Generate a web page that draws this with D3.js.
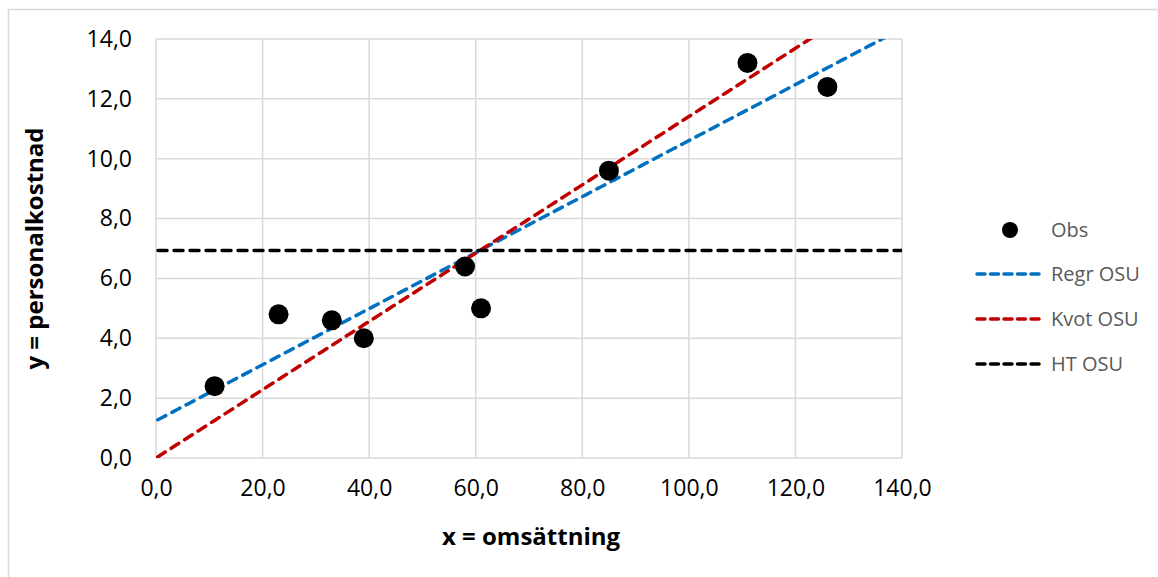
<!DOCTYPE html>
<html>
<head>
<meta charset="utf-8">
<title>Obs och skattningar</title>
<script src="https://cdn.jsdelivr.net/npm/d3@7"></script>
<style>
    body { margin:0; background:#fff; }
    text { font-family:"Open Sans", sans-serif; }
</style>
</head>
<body>
<div id="chart"></div>
<script>
    // observed values
    var xObs = [11, 23, 33, 39, 58, 61, 85, 111, 126];
    var yObs = [2.4, 4.8, 4.6, 4.0, 6.4, 5.0, 9.6, 13.2, 12.4];
    var xTicks = [0, 20, 40, 60, 80, 100, 120, 140];
    var yTicks = [0, 2, 4, 6, 8, 10, 12, 14];
    var legendNames = ["Obs", "Regr OSU", "Kvot OSU", "HT OSU"];
    var lineColors = ["#0070c0", "#c00000", "#000000"];

    var w = 1158, h = 577;
    var pLeft = 156, pRight = 902, pTop = 39, pBottom = 458;

    var svg = d3.select("#chart").append("svg")
        .attr("width", w).attr("height", h);

    // outer frame (only left and top edges visible)
    svg.append("path")
        .attr("d", "M8.5," + h + "V9.5H" + w)
        .attr("fill", "none").attr("stroke", "#d9d9d9").attr("stroke-width", 1.5);

    var x = d3.scaleLinear().domain([0, 140]).range([pLeft, pRight]);
    var y = d3.scaleLinear().domain([0, 14]).range([pBottom, pTop]);

    var fmt = function(d) { return d.toFixed(1).replace(".", ","); };

    // gridlines
    svg.append("g").selectAll("line").data(xTicks).enter().append("line")
        .attr("x1", function(d) { return x(d); }).attr("x2", function(d) { return x(d); })
        .attr("y1", pTop).attr("y2", pBottom)
        .attr("stroke", "#d9d9d9").attr("stroke-width", 1.5);
    svg.append("g").selectAll("line").data(yTicks).enter().append("line")
        .attr("x1", pLeft).attr("x2", pRight)
        .attr("y1", function(d) { return y(d); }).attr("y2", function(d) { return y(d); })
        .attr("stroke", "#d9d9d9").attr("stroke-width", 1.5);

    var xAxis = svg.append("g").attr("transform", "translate(0," + pBottom + ")")
        .call(d3.axisBottom(x).tickValues(xTicks).tickFormat(fmt).tickSize(0).tickPadding(22));
    var yAxis = svg.append("g").attr("transform", "translate(" + pLeft + ",0)")
        .call(d3.axisLeft(y).tickValues(yTicks).tickFormat(fmt).tickSize(0).tickPadding(24));
    [xAxis, yAxis].forEach(function(a) {
        a.select(".domain").remove();
        a.selectAll("text").attr("font-size", "23px").attr("fill", "#000")
            .style("font-family", "'Open Sans', sans-serif");
    });

    // estimation lines from the data
    var mx = d3.mean(xObs), my = d3.mean(yObs);
    var sxy = d3.sum(xObs, function(d, i) { return (d - mx) * (yObs[i] - my); });
    var sxx = d3.sum(xObs, function(d) { return (d - mx) * (d - mx); });
    var b = sxy / sxx, a0 = my - b * mx;
    var q = d3.sum(yObs) / d3.sum(xObs);
    var lines = [
        function(v) { return a0 + b * v; },
        function(v) { return q * v; },
        function(v) { return my; }
    ];

    svg.append("clipPath").attr("id", "plot").append("rect")
        .attr("x", pLeft).attr("y", pTop).attr("width", pRight - pLeft).attr("height", pBottom - pTop);

    var xs = d3.range(0, 141, 1);
    var lineGen = d3.line().x(function(d) { return x(d[0]); }).y(function(d) { return y(d[1]); });
    svg.append("g").attr("clip-path", "url(#plot)")
        .selectAll("path").data(lines).enter().append("path")
        .attr("d", function(f) { return lineGen(xs.map(function(v) { return [v, f(v)]; })); })
        .attr("fill", "none")
        .attr("stroke", function(d, i) { return lineColors[i]; })
        .attr("stroke-width", 3.5)
        .attr("stroke-linecap", "round")
        .attr("stroke-dasharray", "9,7")
        .attr("stroke-dashoffset", -2);

    svg.append("g").selectAll("circle").data(xObs).enter().append("circle")
        .attr("cx", function(d) { return x(d); })
        .attr("cy", function(d, i) { return y(yObs[i]); })
        .attr("r", 10)
        .attr("fill", "#000");

    // axis titles
    svg.append("text").text("x = omsättning")
        .attr("x", (pLeft + pRight) / 2 + 2).attr("y", 545)
        .attr("text-anchor", "middle").attr("font-size", "24px").attr("font-weight", "bold");
    svg.append("text").text("y = personalkostnad")
        .attr("transform", "translate(43," + (pTop + pBottom) / 2 + ") rotate(-90)")
        .attr("text-anchor", "middle").attr("font-size", "24px").attr("font-weight", "bold");

    // legend
    var legY = [230, 274, 319, 364];
    var leg = svg.append("g");
    leg.append("circle").attr("cx", 1010).attr("cy", legY[0]).attr("r", 8).attr("fill", "#000");
    leg.selectAll("line").data(lineColors).enter().append("line")
        .attr("x1", 977).attr("x2", 1040)
        .attr("y1", function(d, i) { return legY[i + 1]; })
        .attr("y2", function(d, i) { return legY[i + 1]; })
        .attr("stroke", function(d) { return d; })
        .attr("stroke-width", 3.5)
        .attr("stroke-linecap", "round")
        .attr("stroke-dasharray", "8,5.5");
    leg.selectAll("text").data(legendNames).enter().append("text")
        .text(function(d) { return d; })
        .attr("x", 1051)
        .attr("y", function(d, i) { return legY[i]; })
        .attr("dy", "0.35em")
        .attr("font-size", "20px")
        .attr("fill", "#595959");
</script>
</body>
</html>
